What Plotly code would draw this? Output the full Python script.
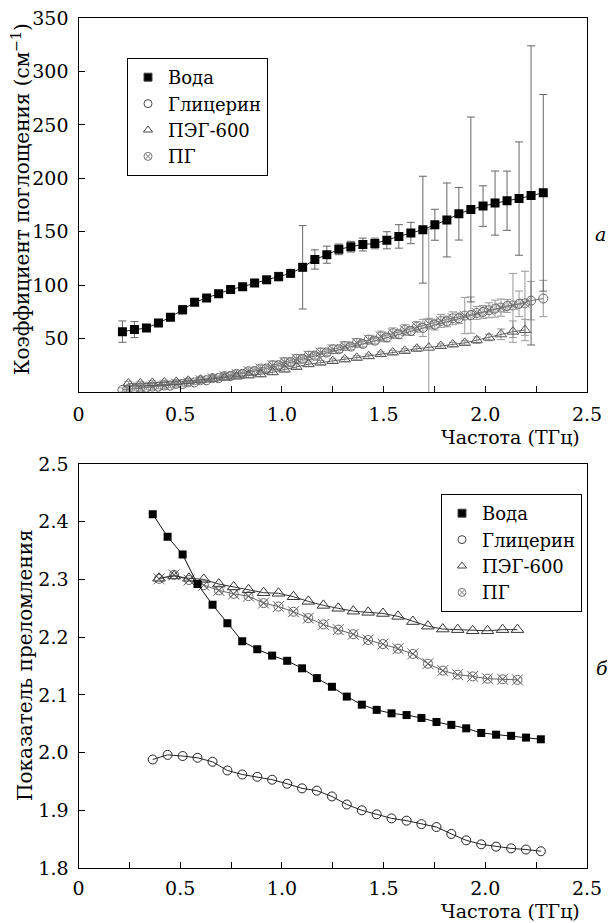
import plotly.graph_objects as go

# ---------------- data: top panel (absorption coefficient, cm^-1) ----------------
freq_a_main = [0.216, 0.275, 0.334, 0.393, 0.452, 0.512, 0.571, 0.630, 0.689, 0.748,
               0.807, 0.866, 0.925, 0.984, 1.043, 1.102, 1.162, 1.221, 1.280, 1.339,
               1.398, 1.457, 1.516, 1.575, 1.634, 1.693, 1.752, 1.811, 1.870, 1.929,
               1.989, 2.048, 2.107, 2.166, 2.225, 2.285]
freq_a_alt = [0.245, 0.304, 0.363, 0.422, 0.481, 0.540, 0.600, 0.659, 0.718, 0.777,
              0.836, 0.895, 0.954, 1.013, 1.072, 1.131, 1.190, 1.250, 1.309, 1.368,
              1.427, 1.486, 1.545, 1.604, 1.663, 1.722, 1.781, 1.840, 1.899, 1.958,
              2.018, 2.077, 2.136, 2.195]

water_abs = [56.5, 58.4, 60, 64.6, 70, 77, 84, 88, 92, 96, 98.6, 102, 105, 108, 111,
             116.7, 124, 128.5, 133.5, 136, 138, 139, 142, 145.6, 148.8, 151.9, 156.5,
             161, 166.8, 170.8, 174, 176.8, 179, 181, 184, 186.4]
water_abs_err = [10, 7.5, 3, 3, 3, 4, 3, 3, 3, 3, 3, 3, 3, 4, 3, 39, 9, 8, 5, 5, 6, 5,
                 8, 11, 10, 50, 14.5, 34.6, 24.6, 86.5, 19, 30, 27.7, 53, 140, 92]

glyc_abs = [2, 3, 4, 5, 6, 7.5, 9, 11, 13, 15, 17, 19.5, 22, 25, 28, 31, 34, 37, 40,
            42.5, 45, 48, 51, 54, 57, 60, 63, 66, 69, 72, 75, 78, 80.5, 82.5, 85.5, 87.5]
glyc_abs_err = [2, 2, 2, 2, 2, 2, 2, 2, 2, 3, 3, 3, 3, 3, 3, 3, 3, 3, 3, 3, 3, 3, 4, 4,
                4, 8, 5, 5, 5, 17, 6, 8, 6, 12, 18, 17]

peg_abs = [8, 8, 8.5, 9, 9.5, 10.5, 11.5, 12.5, 13.5, 14.5, 15.5, 16.5, 18.5, 21, 23.5,
           26, 27.5, 29, 30.5, 32, 33.5, 35.5, 37, 38.5, 40.5, 41.5, 43, 44.5, 46, 48.5,
           51, 54, 56.5, 58]
peg_abs_err = [2, 2, 2, 2, 2, 2, 2, 2, 2, 2, 2, 2, 2, 2, 2, 2, 2, 2, 2, 2, 2, 2, 2, 2,
               2, 111, 2, 2, 2, 3, 3, 5, 10, 10]

pg_abs = [3, 4, 5, 6, 7.5, 9, 11, 13, 15, 17, 19.5, 22, 25, 28, 31, 34, 37, 40, 43, 46,
          49, 52, 55, 58, 61, 64, 66.5, 69, 71.5, 74, 76.5, 79, 81, 83]
pg_abs_err = [3, 3, 3, 3, 3, 3, 3, 3, 3, 3, 3, 3, 4, 4, 4, 4, 4, 4, 4, 4, 4, 5, 5, 5,
              5, 5, 6, 6, 17, 6, 7, 8, 30, 30]

# ---------------- data: bottom panel (refractive index) ----------------
freq_b_main = [0.365, 0.438, 0.512, 0.585, 0.659, 0.732, 0.805, 0.879, 0.952, 1.026,
               1.099, 1.172, 1.246, 1.319, 1.393, 1.466, 1.539, 1.613, 1.686, 1.760,
               1.833, 1.906, 1.980, 2.053, 2.127, 2.200, 2.273]
freq_b_alt = [0.396, 0.470, 0.543, 0.616, 0.690, 0.763, 0.836, 0.910, 0.983, 1.057,
              1.130, 1.204, 1.277, 1.351, 1.424, 1.497, 1.571, 1.644, 1.718, 1.791,
              1.864, 1.938, 2.011, 2.085, 2.158]

water_n = [2.413, 2.374, 2.343, 2.292, 2.256, 2.224, 2.193, 2.179, 2.168, 2.159, 2.146,
           2.129, 2.114, 2.097, 2.083, 2.074, 2.068, 2.065, 2.060, 2.053, 2.048, 2.042,
           2.034, 2.031, 2.029, 2.026, 2.023]
glyc_n = [1.988, 1.996, 1.994, 1.991, 1.984, 1.969, 1.962, 1.958, 1.953, 1.946, 1.938,
          1.934, 1.924, 1.910, 1.900, 1.893, 1.886, 1.882, 1.876, 1.871, 1.859, 1.848,
          1.841, 1.837, 1.834, 1.832, 1.829]
peg_n = [2.302, 2.306, 2.302, 2.300, 2.292, 2.287, 2.282, 2.277, 2.276, 2.270, 2.262,
         2.255, 2.250, 2.245, 2.243, 2.241, 2.236, 2.227, 2.219, 2.214, 2.213, 2.211,
         2.211, 2.213, 2.213]
pg_n = [2.301, 2.308, 2.299, 2.290, 2.281, 2.275, 2.271, 2.259, 2.253, 2.244, 2.233,
        2.222, 2.213, 2.205, 2.195, 2.188, 2.180, 2.171, 2.154, 2.142, 2.135, 2.132,
        2.128, 2.127, 2.126]

series_names = ["Вода", "Глицерин", "ПЭГ-600", "ПГ"]

x_tickvals = [0, 0.5, 1.0, 1.5, 2.0, 2.5]
x_ticktext = ["0", "0.5", "1.0", "1.5", "2.0", "2.5"]
x_minorvals = [0.25, 0.75, 1.25, 1.75, 2.25]
ya_tickvals = [50, 100, 150, 200, 250, 300, 350]
ya_ticktext = ["50", "100", "150", "200", "250", "300", "350"]
yb_tickvals = [1.8, 1.9, 2.0, 2.1, 2.2, 2.3, 2.4, 2.5]
yb_ticktext = ["1.8", "1.9", "2.0", "2.1", "2.2", "2.3", "2.4", "2.5"]

FONT = "DejaVu Serif, Liberation Serif, serif"
# The page body has an 8 px margin, so the figure is offset by it inside the window.
OFF = 8
FW, FH = 615 - OFF, 923 - OFF


def px(X):
    return (X - OFF) / FW


def py(Y):
    return 1 - (Y - OFF) / FH


fig = go.Figure()


def err(arr, color):
    return dict(type="data", array=arr, color=color, thickness=1, width=4)


# ---- top panel traces ----
fig.add_trace(go.Scatter(x=freq_a_alt, y=pg_abs, mode="lines+markers", xaxis="x", yaxis="y",
                         line=dict(color="#888888", width=1),
                         marker=dict(symbol="circle-x-open", size=9, color="#777777",
                                     line=dict(width=1)),
                         error_y=err(pg_abs_err, "#999999"), showlegend=False))
fig.add_trace(go.Scatter(x=freq_a_alt, y=pg_abs, mode="markers", xaxis="x", yaxis="y",
                         marker=dict(symbol="x-thin-open", size=10, color="#777777",
                                     line=dict(width=1, color="#777777")),
                         showlegend=False))
fig.add_trace(go.Scatter(x=freq_a_main, y=glyc_abs, mode="lines+markers", xaxis="x", yaxis="y",
                         line=dict(color="#777777", width=1),
                         marker=dict(symbol="circle-open", size=9, color="#666666",
                                     line=dict(width=1)),
                         error_y=err(glyc_abs_err, "#999999"), showlegend=False))
fig.add_trace(go.Scatter(x=freq_a_alt, y=peg_abs, mode="lines+markers", xaxis="x", yaxis="y",
                         line=dict(color="#666666", width=1),
                         marker=dict(symbol="triangle-up-open", size=10, color="#555555",
                                     line=dict(width=1)),
                         error_y=err(peg_abs_err, "#999999"), showlegend=False))
fig.add_trace(go.Scatter(x=freq_a_main, y=water_abs, mode="lines+markers", xaxis="x", yaxis="y",
                         line=dict(color="#222222", width=1),
                         marker=dict(symbol="square", size=9, color="black"),
                         error_y=err(water_abs_err, "#666666"), showlegend=False))

# ---- bottom panel traces ----
fig.add_trace(go.Scatter(x=freq_b_alt, y=pg_n, mode="lines+markers", xaxis="x2", yaxis="y2",
                         line=dict(color="#666666", width=1),
                         marker=dict(symbol="circle-x-open", size=9, color="#666666",
                                     line=dict(width=1)),
                         showlegend=False))
fig.add_trace(go.Scatter(x=freq_b_alt, y=pg_n, mode="markers", xaxis="x2", yaxis="y2",
                         marker=dict(symbol="x-thin-open", size=11, color="#666666",
                                     line=dict(width=1, color="#666666")),
                         showlegend=False))
fig.add_trace(go.Scatter(x=freq_b_alt, y=peg_n, mode="lines+markers", xaxis="x2", yaxis="y2",
                         line=dict(color="#333333", width=1),
                         marker=dict(symbol="triangle-up-open", size=11, color="#333333",
                                     line=dict(width=1)),
                         showlegend=False))
fig.add_trace(go.Scatter(x=freq_b_main, y=glyc_n, mode="lines+markers", xaxis="x2", yaxis="y2",
                         line=dict(color="#222222", width=1),
                         marker=dict(symbol="circle-open", size=9, color="#222222",
                                     line=dict(width=1)),
                         showlegend=False))
fig.add_trace(go.Scatter(x=freq_b_main, y=water_n, mode="lines+markers", xaxis="x2", yaxis="y2",
                         line=dict(color="#111111", width=1),
                         marker=dict(symbol="square", size=8, color="black"),
                         showlegend=False))

# ---- legend-only entries ----
legend_symbols = ["square", "circle-open", "triangle-up-open", "circle-x-open"]
legend_colors = ["black", "#444444", "#444444", "#777777"]
for lg, xa, ya in (("legend", "x", "y"), ("legend2", "x2", "y2")):
    for name, sym, col in zip(series_names, legend_symbols, legend_colors):
        fig.add_trace(go.Scatter(x=[None], y=[None], mode="markers", name=name,
                                 xaxis=xa, yaxis=ya, legend=lg,
                                 marker=dict(symbol=sym, size=8, color=col,
                                             line=dict(width=1))))

x_dom = [px(78.5), px(587)]
top_dom = [py(392), py(18)]
bot_dom = [py(868), py(464)]

axis_common = dict(showline=True, linecolor="black", linewidth=1.3, mirror=True,
                   ticks="inside", ticklen=6, tickwidth=1, tickcolor="black",
                   showgrid=False, zeroline=False, automargin=False,
                   ticklabeloverflow="allow",
                   tickfont=dict(family=FONT, size=19, color="black"))
x_minor = dict(tickmode="array", tickvals=x_minorvals, ticks="inside", ticklen=6,
               tickwidth=1, tickcolor="black", showgrid=False)

legend_common = dict(xanchor="left", yanchor="top", bgcolor="white",
                     bordercolor="black", borderwidth=1,
                     font=dict(family=FONT, size=18, color="black"),
                     itemwidth=30, tracegroupgap=0)

fig.update_layout(
    width=FW, height=FH,
    margin=dict(l=0, r=0, t=0, b=0, autoexpand=False),
    paper_bgcolor="white", plot_bgcolor="white",
    xaxis=dict(domain=x_dom, anchor="y", range=[0, 2.5], tickmode="array",
               tickvals=x_tickvals, ticktext=x_ticktext, ticklabelstandoff=5,
               minor=x_minor, **axis_common),
    yaxis=dict(domain=top_dom, anchor="x", range=[0, 350], tickmode="array",
               tickvals=ya_tickvals, ticktext=ya_ticktext, ticklabelstandoff=5, **axis_common),
    xaxis2=dict(domain=x_dom, anchor="y2", range=[0, 2.5], tickmode="array",
                tickvals=x_tickvals, ticktext=x_ticktext, ticklabelstandoff=3,
                minor=x_minor, **axis_common),
    yaxis2=dict(domain=bot_dom, anchor="x2", range=[1.8, 2.5], tickmode="array",
                tickvals=yb_tickvals, ticktext=yb_ticktext, ticklabelstandoff=5, **axis_common),
    legend=dict(x=px(127), y=py(58), **legend_common),
    legend2=dict(x=px(441), y=py(494), **legend_common),
    showlegend=True,
)

ann_font = dict(family=FONT, size=19, color="black")
title_font = dict(family=FONT, size=20, color="black")
fig.add_annotation(text="Коэффициент поглощения (см<sup>−1</sup>)", textangle=-90,
                   x=px(21), y=py(199), xref="paper", yref="paper",
                   showarrow=False, font=title_font, xanchor="center", yanchor="middle")
fig.add_annotation(text="Показатель преломления", textangle=-90,
                   x=px(25), y=py(665), xref="paper", yref="paper",
                   showarrow=False, font=title_font, xanchor="center", yanchor="middle")
fig.add_annotation(text="Частота (ТГц)", x=px(582), y=py(437), xref="paper", yref="paper",
                   showarrow=False, font=ann_font, xanchor="right", yanchor="middle")
fig.add_annotation(text="Частота (ТГц)", x=px(582), y=py(911), xref="paper", yref="paper",
                   showarrow=False, font=ann_font, xanchor="right", yanchor="middle")
fig.add_annotation(text="<i>а</i>", x=px(600), y=py(234), xref="paper", yref="paper",
                   showarrow=False, font=ann_font, xanchor="center", yanchor="middle")
fig.add_annotation(text="<i>б</i>", x=px(602), y=py(668), xref="paper", yref="paper",
                   showarrow=False, font=ann_font, xanchor="center", yanchor="middle")

fig.write_html("out.html")
